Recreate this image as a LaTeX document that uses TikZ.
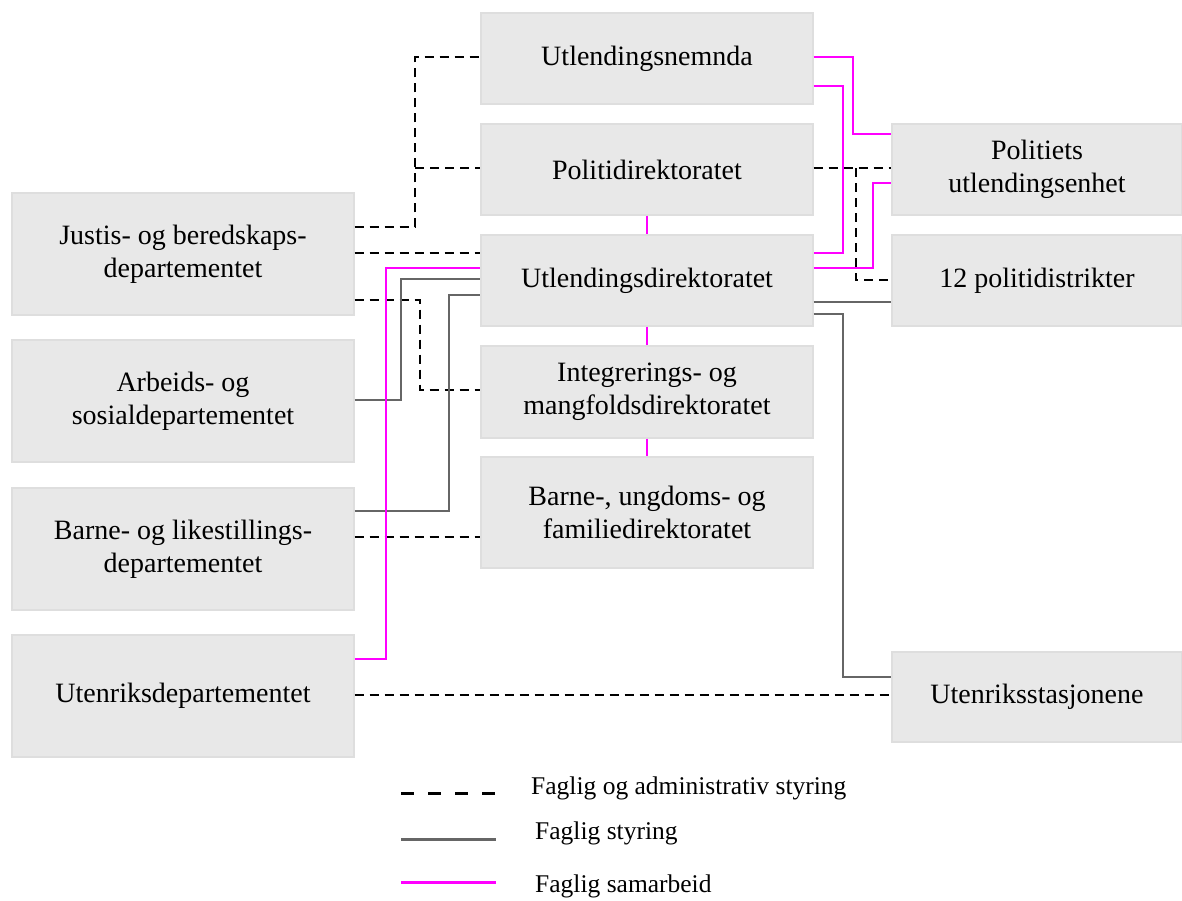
\documentclass[tikz,border=0pt]{standalone}
\usepackage{fontspec}
\setmainfont{Liberation Serif}
\definecolor{pmag}{RGB}{255,0,255}
\begin{document}
\begin{tikzpicture}[x=1pt,y=-1pt,
  box/.style={draw=black!13, fill=black!9, line width=1.2pt, inner sep=0pt, align=center,
    font=\fontsize{28}{33}\selectfont},
  lbox/.style={box, minimum width=342, minimum height=122},
  cbox/.style={box, minimum width=332, minimum height=91},
  rbox/.style={box, minimum width=290, minimum height=91},
  dsh/.style={black, line width=1.8pt, dash pattern=on 9pt off 6pt},
  gry/.style={black!60, line width=1.8pt},
  mag/.style={pmag, line width=1.8pt},
  leg/.style={font=\fontsize{25.5}{30}\selectfont, anchor=base west, inner sep=0pt}]
\useasboundingbox (0,0) rectangle (1182,900);
% left column
\node[lbox] (jus) at (183,254) {Justis- og beredskaps-\\departementet};
\node[lbox] (arb) at (183,401) {Arbeids- og\\sosialdepartementet};
\node[lbox] (bld) at (183,549) {Barne- og likestillings-\\departementet};
\node[lbox] (ud)  at (183,696) {Utenriksdepartementet};
% centre column
\node[cbox] (une) at (647,58.5) {Utlendingsnemnda};
\node[cbox] (pod) at (647,169.5) {Politidirektoratet};
\node[cbox] (udi) at (647,280.5) {Utlendingsdirektoratet};
\node[cbox, minimum height=92] (imd) at (647,392) {Integrerings- og\\mangfoldsdirektoratet};
\node[cbox, minimum height=111] (buf) at (647,512.5) {Barne-, ungdoms- og\\familiedirektoratet};
% right column
\node[rbox] (pu) at (1037,169.5) {Politiets\\utlendingsenhet};
\node[rbox] (pd) at (1037,280.5) {12 politidistrikter};
\node[rbox, minimum height=90] (us) at (1037,697) {Utenriksstasjonene};
% junctions
\coordinate (j1) at (415,168);
\coordinate (j2) at (856,168);
% dashed: faglig og administrativ styring
\draw[dsh] (jus.east |- 0,227) -| (415,57) -- (une.west |- 0,57);
\draw[dsh] (j1) -- (pod.west |- 0,168);
\draw[dsh] (jus.east |- 0,253) -- (udi.west |- 0,253);
\draw[dsh] (jus.east |- 0,300) -| (420,390) -- (imd.west |- 0,390);
\draw[dsh] (bld.east |- 0,537) -- (buf.west |- 0,537);
\draw[dsh] (ud.east |- 0,695) -- (us.west |- 0,695);
\draw[dsh] (pod.east |- 0,168) -- (pu.west |- 0,168);
\draw[dsh] (j2) |- (pd.west |- 0,280);
% gray: faglig styring
\draw[gry] (arb.east |- 0,400) -| (401,279) -- (udi.west |- 0,279);
\draw[gry] (bld.east |- 0,511) -| (449,295) -- (udi.west |- 0,295);
\draw[gry] (udi.east |- 0,302) -- (pd.west |- 0,302);
\draw[gry] (udi.east |- 0,314) -| (843,677) -- (us.west |- 0,677);
% magenta: faglig samarbeid
\draw[mag] (ud.east |- 0,659) -| (386,268) -- (udi.west |- 0,268);
\draw[mag] (une.east |- 0,57) -| (853,134) -- (pu.west |- 0,134);
\draw[mag] (une.east |- 0,86) -| (843,253) -- (udi.east |- 0,253);
\draw[mag] (udi.east |- 0,268) -| (873,183) -- (pu.west |- 0,183);
\draw[mag] (pod.south) -- (udi.north);
\draw[mag] (udi.south) -- (imd.north);
\draw[mag] (imd.south) -- (buf.north);
% legend
\coordinate (la1) at (401,793); \coordinate (la2) at (496,793);
\coordinate (lb1) at (401,839); \coordinate (lb2) at (496,839);
\coordinate (lc1) at (401,882); \coordinate (lc2) at (496,882);
\draw[black, line width=3pt, dash pattern=on 13pt off 14pt] (la1) -- (la2);
\draw[black!60, line width=3pt] (lb1) -- (lb2);
\draw[pmag, line width=3pt] (lc1) -- (lc2);
\node[leg] (ta) at (531,794) {Faglig og administrativ styring};
\node[leg] (tb) at (535,839) {Faglig styring};
\node[leg] (tc) at (535,892) {Faglig samarbeid};
\end{tikzpicture}
\end{document}
